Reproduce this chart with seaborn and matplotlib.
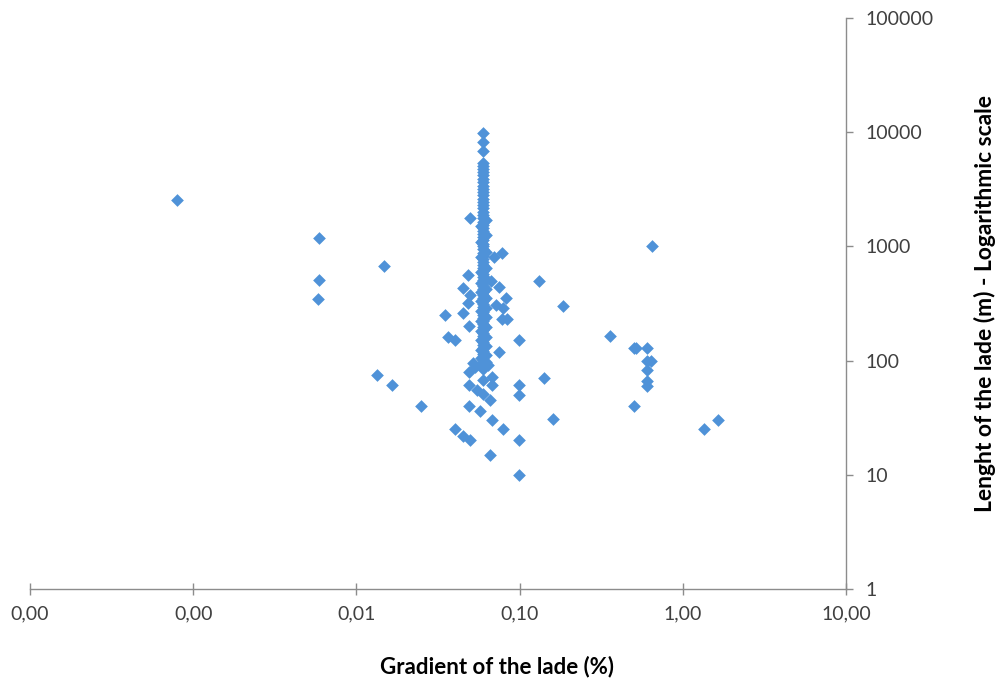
import matplotlib
matplotlib.use("Agg")
import matplotlib.pyplot as plt
import seaborn as sns
import pandas as pd

# ---- data ----
column_gradient = 0.06
column_length = [9840, 8200, 6840, 5400, 5100, 4800, 4500, 4200, 3900, 3650, 3400, 3200,
                 3000, 2800, 2620, 2450, 2300, 2150, 2000, 1880, 1760, 1650, 1550, 1450,
                 1360, 1280, 1200, 1130, 1060, 1000, 940, 880, 830, 780, 735, 690, 650,
                 610, 575, 540, 510, 480, 450, 425, 400, 375, 355, 335, 315, 295, 280,
                 265, 250, 235, 220, 208, 196, 185, 175, 165, 155, 146, 138, 130, 122,
                 115, 108, 102, 96, 90, 85]
left_edge_gradient = 0.058
left_edge_length = [1500, 1100, 800, 600, 480, 400, 330, 270, 220, 180, 150, 125, 105, 92]
right_edge_gradient = 0.062
right_edge_length = [1700, 1250, 900, 650, 520, 420, 350, 290, 240, 195, 160, 135, 112, 98]

scatter_gradient = [0.0008, 0.0059, 0.0059, 0.0058, 0.0148, 0.0134, 0.0165, 0.025, 0.035,
                    0.0365, 0.040, 0.078, 0.07, 0.048, 0.132, 0.045, 0.075, 0.067, 0.05,
                    0.083, 0.048, 0.045, 0.072, 0.079, 0.078, 0.084, 0.049, 0.099, 0.075,
                    0.049, 0.06, 0.0675, 0.0675, 0.049, 0.055, 0.06, 0.066, 0.099, 0.099,
                    0.142, 0.049, 0.057, 0.0675, 0.079, 0.161, 0.040, 0.045, 0.0495, 0.099,
                    0.066, 0.099, 0.65, 0.185, 0.36, 0.50, 0.52, 0.60, 0.60, 0.64, 0.60,
                    0.60, 0.60, 0.50, 1.35, 1.65, 0.05, 0.052, 0.053, 0.064]
scatter_length = [2550, 1180, 510, 345, 670, 75, 61, 40, 250,
                  160, 151, 870, 800, 565, 500, 435, 445, 500, 375,
                  350, 318, 263, 307, 287, 231, 231, 200, 150, 120,
                  80, 68, 72, 61, 61, 55, 51, 45, 61, 50,
                  70, 40, 36, 30, 25, 31, 25, 22, 20, 20,
                  15, 10, 1000, 300, 165, 130, 130, 130, 100, 100, 83,
                  66, 60, 40, 25, 30, 1760, 95, 88, 91]

x_ticks = [0.0001, 0.001, 0.01, 0.1, 1, 10]
x_tick_labels = ["0,00", "0,00", "0,01", "0,10", "1,00", "10,00"]
y_ticks = [1, 10, 100, 1000, 10000, 100000]
y_tick_labels = ["1", "10", "100", "1000", "10000", "100000"]

gradients = ([column_gradient] * len(column_length)
             + [left_edge_gradient] * len(left_edge_length)
             + [right_edge_gradient] * len(right_edge_length)
             + scatter_gradient)
lengths = column_length + left_edge_length + right_edge_length + scatter_length
df = pd.DataFrame({"gradient": gradients, "length": lengths})

# ---- plot ----
sns.set_style("white")
plt.rcParams["font.family"] = ["Lato", "DejaVu Sans"]

fig = plt.figure(figsize=(9.99, 6.82), dpi=100)
ax = fig.add_axes([30 / 999, 1 - 589 / 682, (846 - 30) / 999, (589 - 18) / 682])

sns.scatterplot(data=df, x="gradient", y="length", ax=ax, marker="D", s=42,
                color="#4f92d8", linewidth=0, zorder=3)

ax.set_xscale("log")
ax.set_yscale("log")
ax.set_xlim(0.0001, 10)
ax.set_ylim(1, 100000)
ax.set_xticks(x_ticks)
ax.set_xticklabels(x_tick_labels)
ax.set_yticks(y_ticks)
ax.set_yticklabels(y_tick_labels)
ax.minorticks_off()

ax.yaxis.tick_right()
for s in ["left", "top"]:
    ax.spines[s].set_visible(False)
for s in ["bottom", "right"]:
    ax.spines[s].set_visible(True)
    ax.spines[s].set_color("#8c8c8c")
    ax.spines[s].set_linewidth(1.0)

ax.tick_params(axis="x", direction="inout", length=9, width=1, color="#8c8c8c",
               labelsize=14, labelcolor="#404040", pad=7, bottom=True)
ax.tick_params(axis="y", direction="out", length=5, width=1, color="#8c8c8c",
               labelsize=14, labelcolor="#404040", pad=9, right=True, left=False)

ax.set_xlabel("")
ax.set_ylabel("")
fig.text(0.497, 1 - 667 / 682, "Gradient of the lade (%)", ha="center", va="center",
         fontsize=16, fontweight="bold", color="black")
fig.text(985 / 999, 1 - 304 / 682, "Lenght of the lade (m) - Logarithmic scale",
         ha="center", va="center", rotation=90, fontsize=16.5, fontweight="bold",
         color="black")

fig.savefig("out.png", dpi=100)
